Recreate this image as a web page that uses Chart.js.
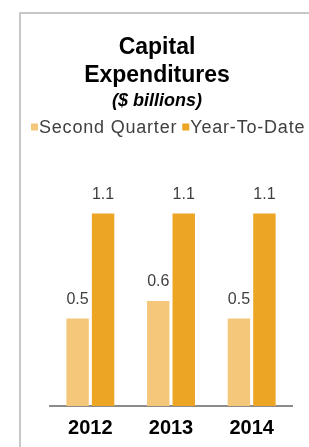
<!DOCTYPE html>
<html>
<head>
<meta charset="utf-8">
<script src="https://cdn.jsdelivr.net/npm/chart.js@4.4.1/dist/chart.umd.min.js"></script>
<style>
  html, body { margin: 0; padding: 0; background: #fff; }
  #wrap { width: 309px; height: 447px; position: relative; }
</style>
</head>
<body>
<div id="wrap"><canvas id="c" width="309" height="447"></canvas></div>
<script>
const categories = ['2012', '2013', '2014'];
const seriesNames = ['Second Quarter', 'Year-To-Date'];
const secondQuarter = [0.5, 0.6, 0.5];
const yearToDate = [1.1, 1.1, 1.1];
const titleLines = ['Capital', 'Expenditures'];
const subtitleText = '($ billions)';

const FONT = "'Liberation Sans', Arial, sans-serif";

const framePlugin = {
  id: 'frame',
  beforeDraw(chart) {
    const ctx = chart.ctx;
    ctx.save();
    ctx.strokeStyle = '#c8c8c8';
    ctx.lineWidth = 2;
    ctx.beginPath();
    ctx.moveTo(20, 447);
    ctx.lineTo(20, 13);
    ctx.lineTo(309, 13);
    ctx.stroke();
    ctx.restore();
  }
};

// Compact legend row (small squares, tight gap) drawn from the datasets
const compactLegend = {
  id: 'compactLegend',
  afterDraw(chart, args, opts) {
    const ctx = chart.ctx;
    ctx.save();
    ctx.font = opts.fontSize + 'px ' + FONT;
    if ('letterSpacing' in ctx) ctx.letterSpacing = opts.spacing + 'px';
    ctx.textBaseline = 'middle';
    ctx.textAlign = 'left';
    let x = opts.startX;
    const y = opts.centerY;
    chart.data.datasets.forEach((ds) => {
      ctx.fillStyle = ds.backgroundColor;
      ctx.fillRect(x, y - opts.box / 2, opts.box, opts.box);
      x += opts.box + opts.boxGap;
      ctx.fillStyle = '#404040';
      ctx.fillText(ds.label, x, y + 1);
      x += ctx.measureText(ds.label).width + opts.itemGap;
    });
    ctx.restore();
  }
};

const valueLabels = {
  id: 'valueLabels',
  afterDatasetsDraw(chart) {
    const ctx = chart.ctx;
    ctx.save();
    ctx.font = '16px ' + FONT;
    ctx.fillStyle = '#404040';
    ctx.textAlign = 'center';
    ctx.textBaseline = 'alphabetic';
    chart.data.datasets.forEach((ds, i) => {
      const meta = chart.getDatasetMeta(i);
      meta.data.forEach((bar, j) => {
        ctx.fillText(ds.data[j].toFixed(1), bar.x, bar.y - 15);
      });
    });
    ctx.restore();
  }
};

new Chart(document.getElementById('c'), {
  type: 'bar',
  data: {
    labels: categories,
    datasets: [
      { label: seriesNames[0], data: secondQuarter, backgroundColor: '#F4C77B',
        categoryPercentage: 0.632, barPercentage: 0.88 },
      { label: seriesNames[1], data: yearToDate, backgroundColor: '#EDA524',
        categoryPercentage: 0.632, barPercentage: 0.88 }
    ]
  },
  options: {
    responsive: false,
    animation: false,
    events: [],
    layout: { padding: { left: 22, right: 17, top: 20, bottom: -3 } },
    plugins: {
      title: {
        display: true,
        text: titleLines,
        color: '#000',
        font: { family: FONT, size: 23, weight: 'bold', lineHeight: 1.217 },
        padding: { top: 14, bottom: 0 }
      },
      subtitle: {
        display: true,
        text: subtitleText,
        color: '#000',
        font: { family: FONT, size: 18, weight: 'bold', style: 'italic', lineHeight: 1.2 },
        padding: { top: 0, bottom: 32 }
      },
      legend: { display: false },
      compactLegend: { startX: 31, centerY: 127, box: 7, boxGap: 1, itemGap: 5, fontSize: 18, spacing: 0.8 },
      tooltip: { enabled: false }
    },
    scales: {
      x: {
        grid: { display: false, drawTicks: false },
        border: { display: true, color: '#8c8c8c', width: 2 },
        ticks: { color: '#000', padding: 10, font: { family: FONT, size: 20, weight: 'bold' } }
      },
      y: {
        display: true,
        min: 0,
        max: 1.5,
        grid: { display: false, drawTicks: false },
        border: { display: false },
        ticks: { display: false },
        afterFit(s) { s.width = 28; }
      }
    }
  },
  plugins: [framePlugin, compactLegend, valueLabels]
});
</script>
</body>
</html>
